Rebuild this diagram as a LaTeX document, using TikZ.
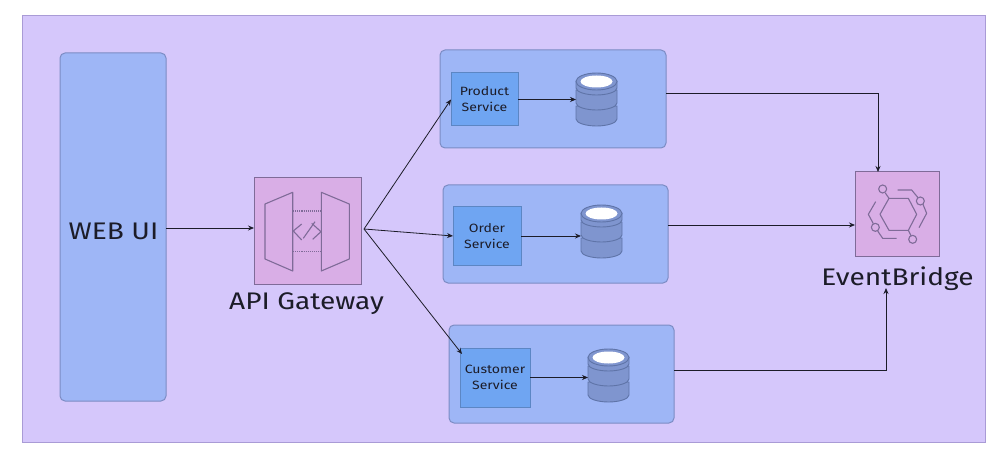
\documentclass[tikz,border=0pt]{standalone}
\usepackage{fontspec}
\setmainfont{Fira Sans}
\newfontfamily\handfont[FakeStretch=1.17]{Fira Sans}
\usetikzlibrary{arrows.meta,calc}
\definecolor{framefill}{HTML}{D5C7FB}
\definecolor{frameline}{HTML}{A99BD6}
\definecolor{panelfill}{HTML}{9EB6F6}
\definecolor{panelline}{HTML}{7C8CC4}
\definecolor{svcfill}{HTML}{6FA5F2}
\definecolor{svcline}{HTML}{5C86C4}
\definecolor{iconfill}{HTML}{D9AEE6}
\definecolor{iconline}{HTML}{7F6B98}
\definecolor{dbfill}{HTML}{7F95CF}
\definecolor{dbline}{HTML}{5F74A8}
\definecolor{inkc}{HTML}{1C1C28}
\tikzset{
  x=1pt,y=-1pt,
  every node/.style={inner sep=0pt,outer sep=0pt,text=inkc},
  frame/.style={draw=frameline,fill=framefill,line width=1pt},
  panel/.style={draw=panelline,fill=panelfill,line width=1pt,rounded corners=5pt},
  svc/.style={draw=svcline,fill=svcfill,line width=1pt,align=center,font=\handfont\fontsize{12}{16}\selectfont},
  iconbox/.style={draw=iconline,fill=iconfill,line width=1pt},
  glyph/.style={draw=iconline,line width=1.1pt,line join=round},
  conn/.style={draw=inkc,line width=.8pt,-{Stealth[length=6pt,width=5pt]}},
  band/.style={draw=dbline,fill=dbfill,line width=.9pt},
  biglabel/.style={font=\handfont\fontsize{24}{26}\selectfont},
}
\newcommand{\boxat}[7][]{\node[#2,anchor=north west,minimum width=#5-#3,minimum height=#6-#4,#1] (#7) at (#3,#4) {};}
% \dbicon{name}{left}{top}
\newcommand{\dbicon}[3]{%
  \node[anchor=north west,minimum width=41pt,minimum height=53pt] (#1) at (#2,#3) {};
  \begin{scope}[shift={(#2,#3)}]
    \path[band] (0,33) -- (0,46) .. controls (0,50) and (10,53) .. (20.5,53) .. controls (31,53) and (41,50) .. (41,46) -- (41,33) -- cycle;
    \path[band] (0,17) -- (0,30) .. controls (0,34) and (10,37) .. (20.5,37) .. controls (31,37) and (41,34) .. (41,30) -- (41,17) -- cycle;
    \path[band] (0,8) -- (0,15) .. controls (0,19) and (10,22) .. (20.5,22) .. controls (31,22) and (41,19) .. (41,15) -- (41,8) -- cycle;
    \path[band] (20.5,8.5) ellipse[x radius=20.5,y radius=8.5];
    \path[fill=white] (20.5,8.5) ellipse[x radius=16,y radius=6];
  \end{scope}}
\begin{document}
\begin{tikzpicture}
\useasboundingbox (0,0) rectangle (1008,462);
\fill[white] (0,0) rectangle (1008,462);
\boxat{frame}{22}{16}{985}{442}{bg}
% web ui
\boxat[rounded corners=5pt]{panel}{60}{53}{166}{401}{web}
\node[biglabel] at (113.5,231) {WEB UI};
% gateway
\boxat{iconbox}{254}{178}{361}{284}{gw}
\draw[glyph] (265,204) -- (292.7,192.3) -- (292.7,271) -- (265,259) -- cycle;
\draw[glyph] (349.3,204) -- (321.3,192.3) -- (321.3,271) -- (349.3,259) -- cycle;
\draw[glyph,densely dotted] (293,211) -- (321,211) (293,251.7) -- (321,251.7);
\draw[glyph] (301.7,224) -- (293.3,231) -- (301.7,240) (303.3,238.3) -- (315,221.7) (311.7,223.3) -- (321,231.7) -- (312.7,239.3);
\node[biglabel,anchor=base] (gwl) at (306.5,309) {API Gateway};
\coordinate (fan) at (364,229);
% panels
\boxat{panel}{440}{50}{666}{148}{p1}
\boxat{panel}{443}{185}{668}{283}{p2}
\boxat{panel}{449}{325}{674}{423}{p3}
\node[svc,anchor=north west,minimum width=67pt,minimum height=53pt] (s1) at (451,73) {Product\\Service};
\node[svc,anchor=north west,minimum width=68pt,minimum height=58pt] (s2) at (453,207) {Order\\Service};
\node[svc,anchor=north west,minimum width=70pt,minimum height=59pt] (s3) at (460,348) {Customer\\Service};
\dbicon{d1}{576}{73}
\dbicon{d2}{581}{205}
\dbicon{d3}{588}{349}
% eventbridge
\boxat{iconbox}{855}{172}{939}{256}{eb}
\begin{scope}[shift={(810,160)},x=.3333pt,y=-.3333pt]
\draw[glyph] (237,115) -- (295,115) -- (320,163) -- (295,211) -- (237,211) -- (210,163) -- cycle;
\draw[glyph] (226,99) -- (237,115) (295,211) -- (303,227);
\draw[glyph] (263,90) -- (305,90) -- (324,113) (339,133) -- (350,160) -- (327,203);
\draw[glyph] (197,125) -- (175,163) -- (190,191) (203,213) -- (218,235) -- (260,235);
\draw[glyph] (218,87) circle[radius=12];
\draw[glyph] (331,123) circle[radius=12];
\draw[glyph] (196,202) circle[radius=12];
\draw[glyph] (308,238) circle[radius=12];
\end{scope}
\node[biglabel,anchor=base] (ebl) at (897.5,285) {EventBridge};
% connectors
\coordinate (w1) at (166,228);
\coordinate (q1) at (666,93);
\coordinate (q2) at (668,225);
\coordinate (q3) at (674,370);
\coordinate (ebin) at (886,288);
\draw[conn] (w1) -- (w1 -| gw.west);
\draw[conn] (fan) -- (s1.west);
\draw[conn] (fan) -- (s2.west);
\draw[conn] (fan) -- ($(s3.north west)+(2,6)$);
\draw[conn] (s1.east) -- (d1.west);
\draw[conn] (s2.east) -- (s2.east -| d2.west);
\draw[conn] (s3.east) -- (s3.east -| d3.west);
\draw[conn] (q1) -- (878,93) -- (878,172);
\draw[conn] (q2) -- (q2 -| eb.west);
\draw[conn] (q3) -- (q3 -| ebin) -- (ebin);
\end{tikzpicture}
\end{document}
